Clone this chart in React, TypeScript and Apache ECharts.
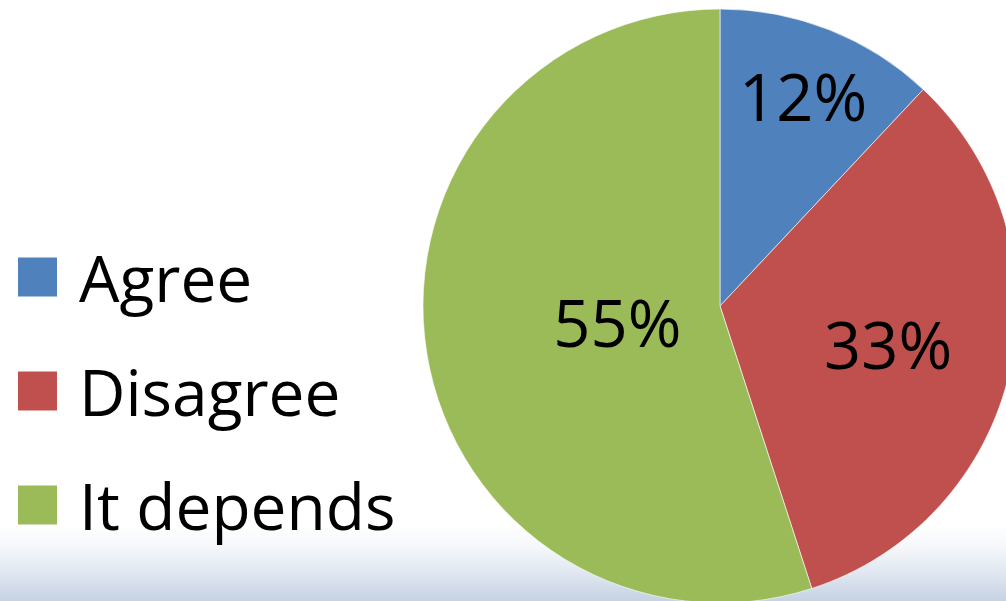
import React, { useEffect, useRef } from "react";
import * as echarts from "echarts";

const categories = ["Agree", "Disagree", "It depends"];
const values = [12, 33, 55];
const colors = ["#4F81BD", "#C0504D", "#9BBB59"];
const labelRadialFractions = [0.76, 0.58, 0.35];

const CENTER_X = 720;
const CENTER_Y = 306;
const RADIUS = 297;

export default function App() {
  const ref = useRef<HTMLDivElement>(null);
  useEffect(() => {
    if (!ref.current) return;
    const chart = echarts.init(ref.current, undefined, { renderer: "svg" });
    const total = values.reduce((a, b) => a + b, 0);
    const cum: number[] = [];
    let acc = 0;
    values.forEach((v) => {
      cum.push(acc + v / 2);
      acc += v;
    });
    chart.setOption({
      animation: false,
      backgroundColor: "#ffffff",
      graphic: [
        {
          type: "rect",
          z: -10,
          shape: { x: 0, y: 524, width: 1006, height: 77 },
          style: {
            fill: new echarts.graphic.LinearGradient(0, 0, 0, 1, [
              { offset: 0, color: "#ffffff" },
              { offset: 0.3, color: "#f5f7fa" },
              { offset: 0.6, color: "#e2e9f2" },
              { offset: 1, color: "#c6d2e2" },
            ]),
          },
        },
      ],
      legend: {
        orient: "vertical",
        left: 16,
        top: 245,
        padding: 0,
        itemWidth: 41,
        itemHeight: 41,
        itemGap: 50,
        icon: "rect",
        data: categories,
        textStyle: {
          fontFamily: "Open Sans",
          fontSize: 64,
          color: "#000",
          lineHeight: 41,
          padding: [0, 0, 0, 16],
        },
      },
      series: [
        {
          type: "pie",
          center: [CENTER_X, CENTER_Y],
          radius: RADIUS,
          startAngle: 90,
          clockwise: true,
          silent: true,
          data: categories.map((name, i) => ({
            name,
            value: values[i],
            itemStyle: { color: colors[i] },
          })),
          itemStyle: { borderColor: "#ffffff", borderWidth: 0.6 },
          label: {
            show: true,
            position: "inside",
            formatter: (p: any) => `${Math.round((p.value / total) * 100)}%`,
            fontFamily: "Open Sans",
            fontSize: 65,
            color: "#000",
          },
          labelLine: { show: false },
          labelLayout: (params: any) => {
            const i = params.dataIndex;
            const ang = (cum[i] / total) * Math.PI * 2;
            const d = RADIUS * labelRadialFractions[i];
            return {
              x: CENTER_X + d * Math.sin(ang),
              y: CENTER_Y - d * Math.cos(ang),
              align: "center",
              verticalAlign: "middle",
            };
          },
        },
      ],
    });
    return () => chart.dispose();
  }, []);
  return (
    <div
      ref={ref}
      style={{ position: "fixed", left: 0, top: 0, width: 1006, height: 601 }}
    />
  );
}
